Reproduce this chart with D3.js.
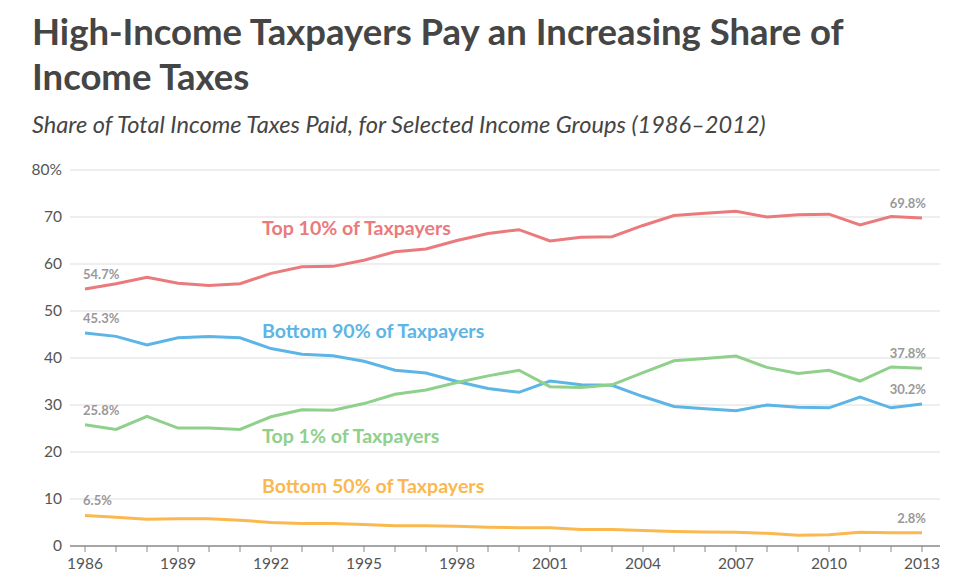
<!DOCTYPE html><html><head><meta charset="utf-8">
<script src="https://cdn.jsdelivr.net/npm/d3@7"></script>
<style>body{margin:0;background:#fff;font-family:Lato,sans-serif}</style></head><body>
<svg id="c" width="980" height="586"></svg>
<script>
const years=d3.range(1986,2014);
const top10=[54.7,55.8,57.2,55.9,55.4,55.8,58.0,59.4,59.5,60.8,62.6,63.2,65.0,66.5,67.3,64.9,65.7,65.8,68.2,70.3,70.8,71.2,70.0,70.5,70.6,68.3,70.1,69.8];
const bottom90=[45.3,44.6,42.8,44.3,44.6,44.3,42.0,40.8,40.5,39.3,37.4,36.8,35.0,33.5,32.7,35.1,34.3,34.2,31.8,29.7,29.2,28.8,30.0,29.5,29.4,31.7,29.4,30.2];
const top1=[25.8,24.8,27.6,25.1,25.1,24.8,27.5,29.0,28.9,30.3,32.3,33.2,34.8,36.2,37.4,33.9,33.7,34.3,36.9,39.4,39.9,40.4,38.0,36.7,37.4,35.1,38.1,37.8];
const bottom50=[6.5,6.1,5.7,5.8,5.8,5.5,5.0,4.8,4.8,4.6,4.3,4.3,4.2,4.0,3.9,3.9,3.5,3.5,3.3,3.1,3.0,2.9,2.7,2.3,2.4,2.9,2.8,2.8];
const xTicks=[1986,1989,1992,1995,1998,2001,2004,2007,2010,2013];
const yTicks=[0,10,20,30,40,50,60,70,80];
const series=[
 {name:"Top 10% of Taxpayers",v:top10,c:"#ea7a7c",lx:262,ly:235,s:"54.7%",e:"69.8%"},
 {name:"Bottom 90% of Taxpayers",v:bottom90,c:"#5db5e6",lx:262,ly:338,s:"45.3%",e:"30.2%"},
 {name:"Top 1% of Taxpayers",v:top1,c:"#8fd08b",lx:262,ly:443,s:"25.8%",e:"37.8%"},
 {name:"Bottom 50% of Taxpayers",v:bottom50,c:"#fbb84f",lx:262,ly:493,s:"6.5%",e:"2.8%"}];
const svg=d3.select("#c");
const x=d3.scaleLinear().domain([1986,2013]).range([85,922]);
const y=d3.scaleLinear().domain([0,80]).range([546,170]);
svg.append("text").attr("x",32).attr("y",45).attr("font-size",36.5).attr("font-weight",700).attr("fill","#454545").text("High-Income Taxpayers Pay an Increasing Share of");
svg.append("text").attr("x",32).attr("y",90).attr("font-size",36.5).attr("font-weight",700).attr("fill","#454545").text("Income Taxes");
svg.append("text").attr("x",32).attr("y",133).attr("font-size",23.6).attr("font-style","italic").attr("fill","#454545").text("Share of Total Income Taxes Paid, for Selected Income Groups (1986–2012)");
yTicks.forEach(t=>{
 svg.append("line").attr("x1",70).attr("x2",940).attr("y1",y(t)).attr("y2",y(t)).attr("stroke",t==0?"#888":"#ddd").attr("stroke-width",t==0?1.5:1);
 svg.append("text").attr("x",62).attr("y",y(t)+5).attr("text-anchor","end").attr("font-size",15.5).attr("fill","#555").text(t==80?"80%":t);
});
years.forEach(yr=>svg.append("line").attr("x1",x(yr)).attr("x2",x(yr)).attr("y1",546).attr("y2",552).attr("stroke","#888"));
xTicks.forEach(t=>svg.append("text").attr("x",x(t)).attr("y",569).attr("text-anchor","middle").attr("font-size",15.5).attr("fill","#555").text(t));
const line=d3.line().x((d,i)=>x(years[i])).y(d=>y(d));
series.forEach(s=>{
 svg.append("path").attr("d",line(s.v)).attr("fill","none").attr("stroke",s.c).attr("stroke-width",3);
 svg.append("text").attr("x",s.lx).attr("y",s.ly).attr("font-size",19.6).attr("font-weight",700).attr("fill",s.c).text(s.name);
 svg.append("text").attr("x",x(1986)-2).attr("y",y(s.v[0])-10).attr("font-size",13).attr("font-weight",700).attr("fill","#999").text(s.s);
 svg.append("text").attr("x",x(2013)+4).attr("y",y(s.v[s.v.length-1])-10).attr("text-anchor","end").attr("font-size",13).attr("font-weight",700).attr("fill","#999").text(s.e);
});
</script></body></html>
